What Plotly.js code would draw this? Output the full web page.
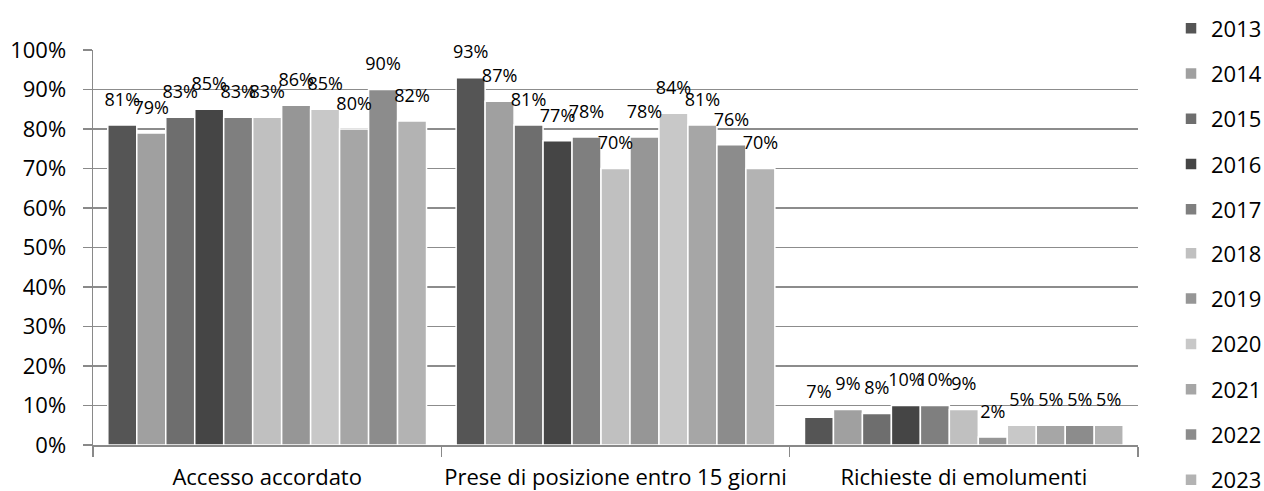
<!DOCTYPE html>
<html>
<head>
<meta charset="utf-8">
<script src="https://cdn.plot.ly/plotly-3.0.1.min.js"></script>
<style>html,body{margin:0;padding:0;background:#fff;}#chart{width:1264px;height:491px;}</style>
</head>
<body>
<div id="chart"></div>
<script>
const categories = ["Accesso accordato", "Prese di posizione entro 15 giorni", "Richieste di emolumenti"];
const years = ["2013","2014","2015","2016","2017","2018","2019","2020","2021","2022","2023"];
const v2013 = [81, 93, 7];
const v2014 = [79, 87, 9];
const v2015 = [83, 81, 8];
const v2016 = [85, 77, 10];
const v2017 = [83, 78, 10];
const v2018 = [83, 70, 9];
const v2019 = [86, 78, 2];
const v2020 = [85, 84, 5];
const v2021 = [80, 81, 5];
const v2022 = [90, 76, 5];
const v2023 = [82, 70, 5];
const seriesValues = [v2013, v2014, v2015, v2016, v2017, v2018, v2019, v2020, v2021, v2022, v2023];
const colors = ["#555555","#a0a0a0","#6e6e6e","#454545","#7f7f7f","#c0c0c0","#969696","#c8c8c8","#a6a6a6","#8c8c8c","#b3b3b3"];

const FONT = "Open Sans, Lato, sans-serif";
const traces = [];
years.forEach((yr, i) => {
  traces.push({
    type: "bar", name: yr, x: categories, y: seriesValues[i].map(v => v / 100),
    marker: {color: colors[i], line: {color: "#ffffff", width: 1.5}},
    legendgroup: "g" + i, legend: i < 5 ? "legend" : "legend2", hoverinfo: "skip"
  });
});
years.forEach((yr, i) => {
  traces.push({
    type: "scatter", mode: "markers+text", name: yr + " labels", showlegend: false,
    x: categories, y: seriesValues[i].map(v => v / 100),
    texttemplate: "%{y:.0%}", textposition: "top center",
    textfont: {family: FONT, size: 18, color: "#000"},
    marker: {size: 22, color: "rgba(0,0,0,0)"},
    cliponaxis: false, hoverinfo: "skip", legendgroup: "g" + i
  });
});

const legendBase = {
  xanchor: "left", yanchor: "top",
  font: {family: FONT, size: 22, color: "#000"},
  tracegroupgap: 13.7, traceorder: "grouped", bgcolor: "rgba(0,0,0,0)"
};

const layout = {
  width: 1264, height: 491,
  margin: {l: 93, r: 126, t: 50, b: 46, autoexpand: false},
  paper_bgcolor: "#ffffff", plot_bgcolor: "#ffffff",
  barmode: "group", bargap: 0.085, bargroupgap: 0,
  scattermode: "group", scattergap: 0.085,
  font: {family: FONT, size: 22, color: "#000"},
  showlegend: true,
  xaxis: {
    type: "category", tickson: "boundaries", ticks: "outside", ticklen: 10,
    tickcolor: "#898989", tickwidth: 1.5, showline: true, linecolor: "#898989", linewidth: 1.5,
    showgrid: false, tickangle: 0, ticklabelstandoff: 12,
    tickfont: {family: FONT, size: 22, color: "#000"}, fixedrange: true
  },
  yaxis: {
    range: [0, 1], dtick: 0.1, tick0: 0, tickformat: ".0%",
    showgrid: true, gridcolor: "#8c8c8c", gridwidth: 1.5,
    showline: true, linecolor: "#898989", linewidth: 1.5,
    ticks: "outside", ticklen: 9, tickcolor: "#898989", tickwidth: 1.5,
    ticklabelstandoff: 12, zeroline: false,
    tickfont: {family: FONT, size: 22, color: "#000"}, fixedrange: true
  },
  legend: Object.assign({}, legendBase, {x: 1.0316, y: 1.108}),
  legend2: Object.assign({}, legendBase, {x: 1.0316, y: 0.538})
};

Plotly.newPlot("chart", traces, layout, {displayModeBar: false, staticPlot: true});
</script>
</body>
</html>
